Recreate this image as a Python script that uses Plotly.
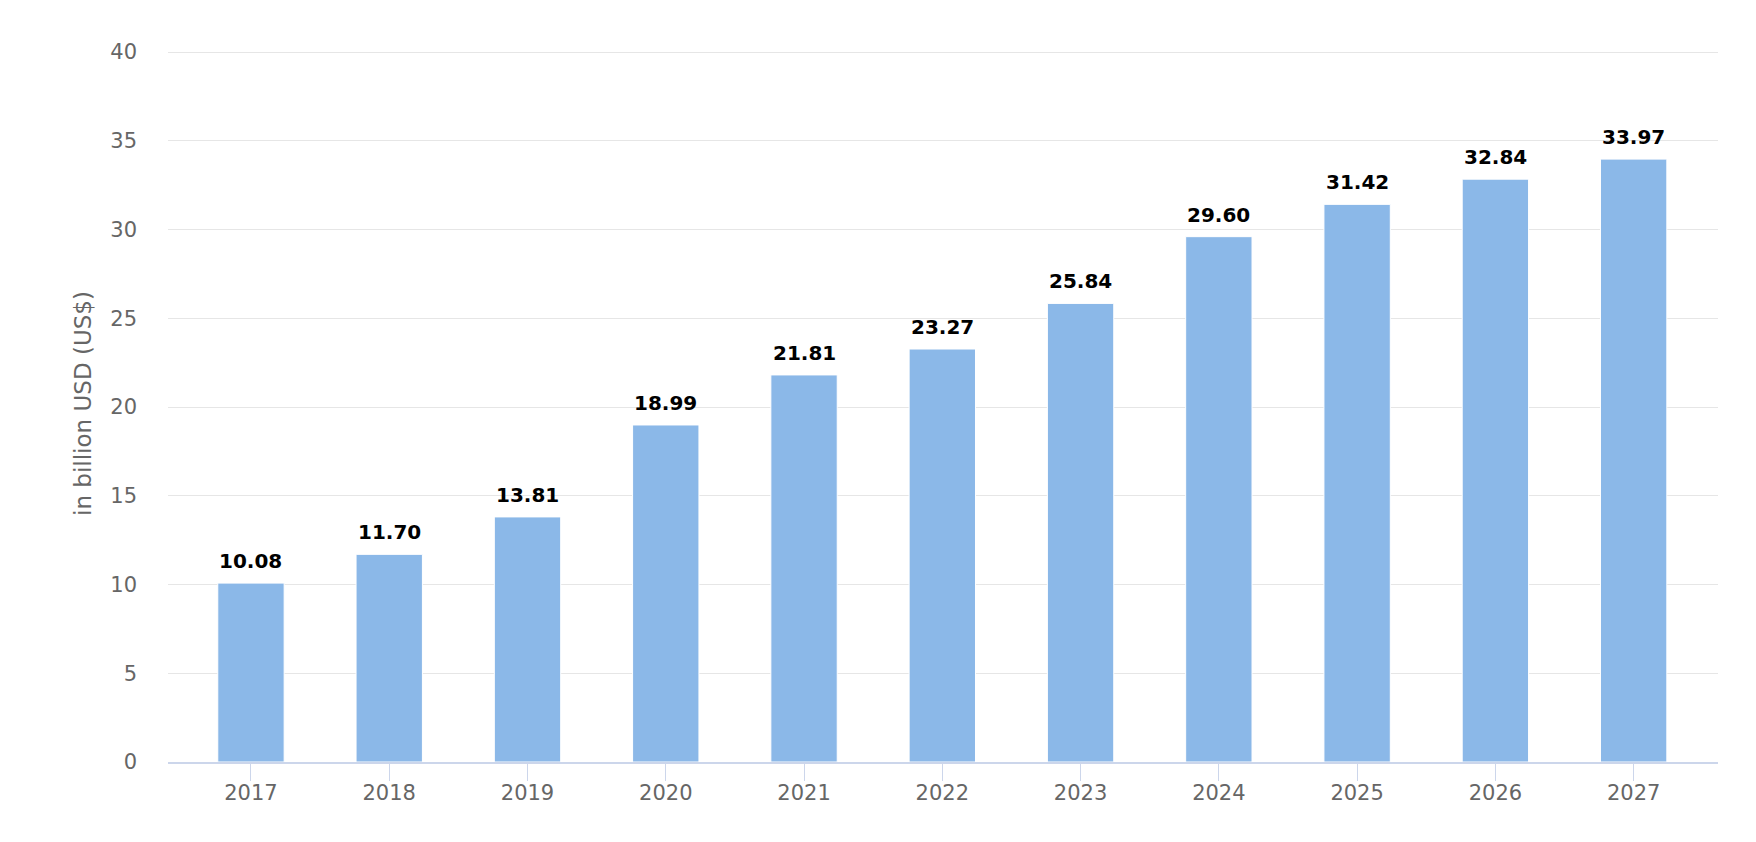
import plotly.graph_objects as go

years = ["2017", "2018", "2019", "2020", "2021", "2022", "2023", "2024", "2025", "2026", "2027"]
values = [10.08, 11.70, 13.81, 18.99, 21.81, 23.27, 25.84, 29.60, 31.42, 32.84, 33.97]
y_ticks = [0, 5, 10, 15, 20, 25, 30, 35, 40]

FONT = "DejaVu Sans"

fig = go.Figure(data=go.Bar(
    x=years, y=values,
    width=0.48,
    marker=dict(color="#8bb8e8", line=dict(color="#ffffff", width=1)),
    hoverinfo="x+y",
))

# value labels above the bars (category index as x)
for i, v in enumerate(values):
    fig.add_annotation(
        x=i, y=v, text="<b>%.2f</b>" % v,
        showarrow=False, yanchor="bottom", yshift=8,
        font=dict(family=FONT, size=20, color="#000000"),
    )

fig.update_layout(
    width=1740, height=826,
    margin=dict(l=160, r=30, t=37, b=72),
    plot_bgcolor="#ffffff", paper_bgcolor="#ffffff",
    showlegend=False,
    xaxis=dict(
        type="category",
        range=[-0.6, 10.61],
        showline=True, linecolor="#ccd6eb", linewidth=2,
        ticks="outside", ticklen=17, tickcolor="#ccd6eb", tickwidth=1,
        ticklabelstandoff=-6,
        tickfont=dict(family=FONT, size=21, color="#666666"),
        showgrid=False,
    ),
    yaxis=dict(
        range=[0, 40.4],
        tickvals=y_ticks,
        showgrid=True, gridcolor="#e6e6e6", gridwidth=1,
        zeroline=False, showline=False,
        ticks="", ticklabelstandoff=30,
        tickfont=dict(family=FONT, size=21, color="#666666"),
        title=dict(text="in billion USD (US$)", standoff=12,
                   font=dict(family=FONT, size=23, color="#666666")),
    ),
)

fig.write_html("out.html")
